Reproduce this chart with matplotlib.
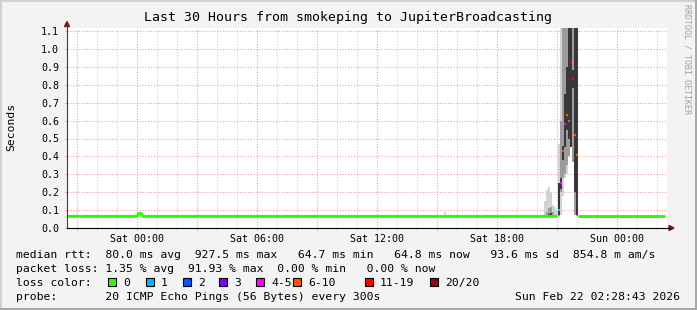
import matplotlib
matplotlib.use('Agg')
import matplotlib.pyplot as plt
from matplotlib.lines import Line2D
from matplotlib.patches import Polygon, Rectangle
import numpy as np

W, H = 697, 310

# time axis in hours relative to Sat 00:00
t_start, t_end = -3.5, 26.5
label_hours = [0, 6, 12, 18, 24]
label_names = ['Sat 00:00', 'Sat 06:00', 'Sat 12:00', 'Sat 18:00', 'Sun 00:00']

# median rtt (seconds), loss 0 -> green line
base_t = [-3.5, 0.0, 0.1, 0.2, 0.3, 21.02]
base_med = [0.065, 0.065, 0.082, 0.082, 0.065, 0.065]
tail_t = [22.03, 26.4]
tail_med = [0.065, 0.065]

# smoke columns (ping spread): outer, middle and inner bands
smoke_t = [0.1, 0.2, 15.4,
           20.375, 20.475, 20.575, 20.675, 20.775, 20.875, 20.975,
           21.075, 21.175, 21.275, 21.375, 21.475, 21.575, 21.675, 21.775, 21.875, 21.975]
smoke_lo = [0.065, 0.065, 0.065,
            0.065, 0.065, 0.065, 0.065, 0.065, 0.065, 0.065,
            0.065, 0.07, 0.18, 0.28, 0.30, 0.40, 0.45, 0.37, 0.07, 0.065]
smoke_hi = [0.088, 0.088, 0.090,
            0.150, 0.210, 0.230, 0.200, 0.130, 0.120, 0.100,
            0.47, 1.30, 1.30, 1.30, 1.30, 1.40, 1.40, 1.40, 1.40, 1.40]
smoke_m1 = [0.070, 0.070, 0.066,
            0.066, 0.066, 0.066, 0.066, 0.066, 0.066, 0.066,
            0.065, 0.20, 0.28, 0.30, 0.35, 0.40, 0.45, 0.37, 0.07, 0.065]
smoke_m2 = [0.082, 0.082, 0.066,
            0.070, 0.090, 0.110, 0.120, 0.090, 0.070, 0.068,
            0.25, 0.60, 1.30, 1.30, 1.30, 1.30, 1.30, 1.30, 1.30, 1.30]
smoke_d1 = [0.070, 0.070, 0.066,
            0.066, 0.066, 0.066, 0.066, 0.066, 0.066, 0.066,
            0.07, 0.22, 0.38, 0.45, 0.55, 0.50, 0.45, 0.78, 0.20, 0.07]
smoke_d2 = [0.070, 0.070, 0.066,
            0.066, 0.066, 0.080, 0.085, 0.066, 0.066, 0.066,
            0.25, 0.28, 0.46, 0.75, 0.90, 1.30, 1.30, 0.88, 1.30, 1.30]

# median during the outage, with its loss class index
spike_t = [21.075, 21.175, 21.275, 21.375, 21.475, 21.575, 21.675, 21.775, 21.875, 21.975]
spike_med = [0.10, 0.25, 0.43, 0.58, 0.63, 0.60, 0.93, 0.83, 0.52, 0.41]
spike_loss = [1, 4, 5, 4, 5, 5, 6, 6, 5, 5]

loss_names = ['0', '1', '2', '3', '4-5', '6-10', '11-19', '20/20']
loss_colors = ['#26ff00', '#00b8ff', '#0059ff', '#7e00ff', '#ff00ff', '#ff5500', '#ff0000', '#a10000']
loss_box_x = [108, 146, 183, 219, 256, 293, 365, 430]

legend_lines = [
    'median rtt:  80.0 ms avg  927.5 ms max   64.7 ms min   64.8 ms now   93.6 ms sd  854.8 m am/s',
    'packet loss: 1.35 % avg  91.93 % max  0.00 % min   0.00 % now',
    'loss color:',
    'probe:       20 ICMP Echo Pings (56 Bytes) every 300s',
]
stamp = 'Sun Feb 22 02:28:43 2026'

MONO = 'DejaVu Sans Mono'
MAJOR = '#f4a0a0'
MINOR = '#d2d2d2'


def fx(x):
    return x / W


def fy(y):
    return 1 - y / H


fig = plt.figure(figsize=(W / 100, H / 100), dpi=100, facecolor='#f3f3f3')
ax = fig.add_axes([fx(67), fy(228), 600 / W, 200 / H])
ax.set_facecolor('white')
ax.set_xlim(t_start, t_end)
ax.set_ylim(0, 200 / 179)
for s in ax.spines.values():
    s.set_visible(False)

# grid
major_hours = np.arange(-3, 27, 3)
ax.set_xticks(major_hours)
ax.set_xticklabels([label_names[label_hours.index(h)] if h in label_hours else '' for h in major_hours])
ax.set_xticks(np.arange(-3, 27, 1), minor=True)
ax.set_yticks(np.arange(0, 1.11, 0.1))
ax.set_yticklabels(['%.1f' % v for v in np.arange(0, 1.11, 0.1)])
ax.grid(which='minor', axis='x', color=MINOR, linestyle=(0, (1, 1.5)), linewidth=0.8)
ax.grid(which='major', axis='both', color=MAJOR, linestyle=(0, (1, 1.5)), linewidth=0.8)
ax.set_axisbelow(True)
ax.tick_params(axis='x', which='major', length=1.6, color=MAJOR, pad=2.5, labelsize=7.2)
ax.tick_params(axis='x', which='minor', length=1.6, color=MINOR)
ax.tick_params(axis='y', which='major', length=1.6, color=MAJOR, pad=4.2, labelsize=7.2)
for lab in ax.get_xticklabels() + ax.get_yticklabels():
    lab.set_family(MONO)

# smoke
def band(lo, hi, color, z):
    lo = np.array(lo)
    hi = np.array(hi)
    ax.bar(smoke_t, hi - lo, bottom=lo, width=0.1, color=color, linewidth=0, zorder=z)


band(smoke_lo, smoke_hi, '#d2d2d2', 2)
band(smoke_m1, smoke_m2, '#9c9c9c', 3)
band(smoke_d1, smoke_d2, '#383838', 3.5)

# median
ax.plot(base_t, base_med, color=loss_colors[0], linewidth=2.1, solid_capstyle='butt', zorder=4)
ax.plot(tail_t, tail_med, color=loss_colors[0], linewidth=2.1, solid_capstyle='butt', zorder=4)
for t, m, k in zip(spike_t, spike_med, spike_loss):
    ax.hlines(m, t - 0.05, t + 0.05, color=loss_colors[k], linewidth=1.6, zorder=5)

# axes with arrows
fig.add_artist(Line2D([fx(67), fx(67)], [fy(228), fy(25)], color='#404040', linewidth=0.8))
fig.add_artist(Line2D([fx(67), fx(670)], [fy(228), fy(228)], color='black', linewidth=0.8))
fig.add_artist(Polygon([(fx(64.5), fy(26.5)), (fx(69.5), fy(26.5)), (fx(67), fy(21.5))],
                       closed=True, color='#7f1414'))
fig.add_artist(Polygon([(fx(669), fy(225.5)), (fx(669), fy(230.5)), (fx(674), fy(228))],
                       closed=True, color='#7f1414'))

# texts
fig.text(fx(348), fy(18), 'Last 30 Hours from smokeping to JupiterBroadcasting',
         ha='center', va='center', family=MONO, fontsize=9.5)
fig.text(fx(11), fy(127), 'Seconds', rotation=90, ha='center', va='center', family=MONO, fontsize=8.2)
fig.text(fx(687), fy(59), 'RRDTOOL / TOBI OETIKER', rotation=270, ha='center', va='center',
         family=MONO, fontsize=6, color='#a0a0a0')

for i, line in enumerate(legend_lines):
    fig.text(fx(16), fy(258 + 14 * i), line, ha='left', va='baseline', family=MONO, fontsize=8.2)
fig.text(fx(680), fy(300), stamp, ha='right', va='baseline', family=MONO, fontsize=8.2)

for bx, name, col in zip(loss_box_x, loss_names, loss_colors):
    fig.add_artist(Rectangle((fx(bx), fy(286)), 8 / W, 8 / H, facecolor=col, edgecolor='black', linewidth=0.8))
    fig.text(fx(bx + 15), fy(286), name, ha='left', va='baseline', family=MONO, fontsize=8.2)

# frame
fig.add_artist(Rectangle((0, 0), 1, 2 / H, color='#a8a8a8', linewidth=0))
fig.add_artist(Rectangle((1 - 2 / W, 0), 2 / W, 1, color='#a8a8a8', linewidth=0))
fig.add_artist(Rectangle((0, 1 - 2 / H), 1 - 2 / W, 2 / H, color='#d2d2d2', linewidth=0))
fig.add_artist(Rectangle((0, 2 / H), 2 / W, 1 - 4 / H, color='#d2d2d2', linewidth=0))

fig.savefig('out.png', dpi=100, facecolor=fig.get_facecolor())
